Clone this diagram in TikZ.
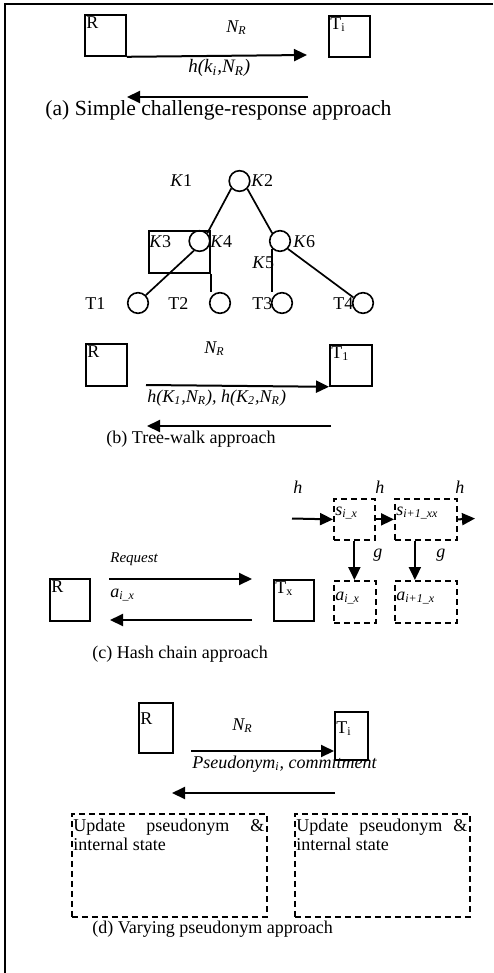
\documentclass[tikz,border=0pt]{standalone}
\usepackage{fontspec}
\setmainfont{Liberation Serif}
\usetikzlibrary{arrows.meta, positioning}

\begin{document}
\begin{tikzpicture}[
        x=0.5pt, y=-0.5pt,
        font=\fontsize{9}{11}\selectfont,
        agentbox/.style={rectangle, draw, line width=0.9pt, inner sep=0pt, anchor=north west},
        statebox/.style={agentbox, dash pattern=on 3pt off 2pt},
        boxsize/.style 2 args={minimum width=#1*0.5pt, minimum height=#2*0.5pt},
        keynode/.style={circle, draw, line width=0.8pt, minimum size=10.3pt, inner sep=0pt},
        branch/.style={line width=0.85pt},
        lbl/.style={inner sep=0pt, anchor=base west},
        boxlbl/.style={lbl, anchor=north west, inner sep=1pt},
        arrow/.style={-{Triangle[length=6.5pt,width=6pt]}, line width=1pt}
    ]
        \useasboundingbox (0,0) rectangle (493,973);
        \draw[line width=1.2pt] (493,4) -- (5,4) -- (5,973);

        % (a) simple challenge-response
        \node[agentbox, boxsize={41}{41}, label={[boxlbl]north west:R}] (Ra) at (84,14) {};
        \node[agentbox, boxsize={41}{41}, label={[boxlbl]north west:T\textsubscript{i}}] (Ta) at (328,15) {};
        \node[lbl] (NRa) at (226,33) {\textit{N\textsubscript{R}}};
        \node[lbl, font=\fontsize{9.5}{11}\selectfont] (hka) at (188,73) {\textit{h(k\textsubscript{i},N\textsubscript{R})}};
        \coordinate (a1) at (307,55);
        \coordinate (a2) at (308,97);
        \coordinate (a3) at (127,97);
        \draw[arrow] (Ra.south east) -- (a1);
        \draw[arrow] (a2) -- (a3);
        \node[lbl, font=\fontsize{10.8}{13}\selectfont] (capa) at (45,116) {(a) Simple challenge-response approach};

        % (b) tree of keys
        \node[keynode] (K2) at (239.5,181) {};
        \node[keynode] (K4) at (199.5,241) {};
        \node[keynode] (K6) at (280,241) {};
        \node[keynode] (T1) at (138,303) {};
        \node[keynode] (T2) at (220,303) {};
        \node[keynode] (T3) at (282,303) {};
        \node[keynode] (T4) at (363,303) {};
        \node[agentbox, boxsize={61}{42}] (K34) at (148,230) {};
        \node[lbl] (K1l) at (170,187) {\textit{K}1};
        \node[lbl] (K2l) at (251,187) {\textit{K}2};
        \node[lbl] (K3l) at (149,247) {\textit{K}3};
        \node[lbl] (K4l) at (210,247) {\textit{K}4};
        \node[lbl] (K5l) at (252,268) {\textit{K}5};
        \node[lbl] (K6l) at (293,247) {\textit{K}6};
        \node[lbl] (T1l) at (85,309) {T1};
        \node[lbl] (T2l) at (168,309) {T2};
        \node[lbl] (T3l) at (252,309) {T3};
        \node[lbl] (T4l) at (333,309) {T4};
        \draw[branch] (K2.222) -- (K4.north east);
        \draw[branch] (K2.south east) -- (K6.north west);
        \draw[branch] (K4.240) -- (T1.north east);
        \draw[branch] (K34.south east) -- (K34.south east |- T2.north);
        \draw[branch] (K6.south west) -- (K6.south west |- T3.north);
        \draw[branch] (K6.south east) -- (T4.150);

        % (b) messages
        \node[agentbox, boxsize={41}{42}, label={[boxlbl]north west:R}] (Rb) at (85,343) {};
        \node[agentbox, boxsize={42}{41}, label={[boxlbl]north west:T\textsubscript{1}}] (Tb) at (329,344) {};
        \node[lbl] (NRb) at (204,353) {\textit{N\textsubscript{R}}};
        \node[lbl] (hKb) at (147,402) {\textit{h(K\textsubscript{1},N\textsubscript{R}), h(K\textsubscript{2},N\textsubscript{R})}};
        \coordinate (b1) at (146,385);
        \coordinate (b2) at (331,426);
        \coordinate (b3) at (147,426);
        \draw[arrow] (b1) -- (Tb.south west);
        \draw[arrow] (b2) -- (b3);
        \node[lbl] (capb) at (106,443) {(b) Tree-walk approach};

        % (c) hash chain
        \node[statebox, boxsize={41}{41}, label={[lbl, anchor=west, inner sep=1pt, yshift=3pt]west:\textit{s\textsubscript{i\_x}}}] (sA) at (333,498) {};
        \node[statebox, boxsize={62}{41}, label={[lbl, anchor=west, inner sep=1pt, yshift=3pt]west:\textit{s\textsubscript{i+1\_xx}}}] (sB) at (394,498) {};
        \node[statebox, boxsize={42}{42}, label={[lbl, anchor=west, inner sep=1pt, yshift=2pt]west:\textit{a\textsubscript{i\_x}}}] (aA) at (333,580) {};
        \node[statebox, boxsize={62}{42}, label={[lbl, anchor=west, inner sep=1pt, yshift=2pt]west:\textit{a\textsubscript{i+1\_x}}}] (aB) at (394,580) {};
        \node[lbl] (h1) at (293,493) {\textit{h}};
        \node[lbl] (h2) at (375,493) {\textit{h}};
        \node[lbl] (h3) at (455,493) {\textit{h}};
        \node[lbl] (g1) at (373,557) {\textit{g}};
        \node[lbl] (g2) at (436,557) {\textit{g}};
        \coordinate (c5) at (292,518.5);
        \coordinate (c6) at (475,518.5);
        \draw[arrow] (c5) -- (sA.west);
        \draw[arrow] (sA.east) -- (sB.west);
        \draw[arrow] (sB.east) -- (c6);
        \draw[arrow] (sA.south) -- (sA.south |- aA.north);
        \draw[arrow] ([xshift=-5.5pt]sB.south) -- ([xshift=-5.5pt]sB.south |- aB.north);

        \node[agentbox, boxsize={40}{42}, label={[boxlbl]north west:R}] (Rc) at (49,578) {};
        \node[agentbox, boxsize={40}{41}, label={[boxlbl]north west:T\textsubscript{x}}] (Tc) at (273,579) {};
        \node[lbl, font=\fontsize{7.5}{9}\selectfont] (req) at (110,562) {\textit{Request}};
        \node[lbl] (aix) at (110,597) {\textit{a\textsubscript{i\_x}}};
        \coordinate (c1) at (109,579);
        \coordinate (c2) at (252,579);
        \coordinate (c3) at (252,620);
        \coordinate (c4) at (110,620);
        \draw[arrow] (c1) -- (c2);
        \draw[arrow] (c3) -- (c4);
        \node[lbl] (capc) at (92,658) {(c) Hash chain approach};

        % (d) varying pseudonym
        \node[agentbox, boxsize={34}{50}, label={[boxlbl, yshift=-4pt]north west:R}] (Rd) at (138,702) {};
        \node[agentbox, boxsize={33}{48}, label={[boxlbl, yshift=-4pt]north west:T\textsubscript{i}}] (Td) at (334,711) {};
        \node[lbl] (NRd) at (232,730) {\textit{N\textsubscript{R}}};
        \node[lbl] (psd) at (192,768) {\textit{Pseudonym\textsubscript{i}, commitment}};
        \coordinate (d1) at (191,751);
        \coordinate (d2) at (335,793);
        \coordinate (d3) at (172,793);
        \draw[arrow] (d1) -- (Td.west |- d1);
        \draw[arrow] (d2) -- (d3);

        \node[statebox, boxsize={195}{103}] (Ud1) at (71,813) {};
        \node[statebox, boxsize={175}{103}] (Ud2) at (294,813) {};
        \node[anchor=north west, inner sep=1pt, text width=95.5pt, align=justify, font=\fontsize{9}{9.4}\selectfont] (Ud1t) at ([yshift=-2pt]Ud1.north west) {Update pseudonym \&\linebreak internal state};
        \node[anchor=north west, inner sep=1pt, text width=85.5pt, align=justify, font=\fontsize{9}{9.4}\selectfont] (Ud2t) at ([yshift=-2pt]Ud2.north west) {Update pseudonym \&\linebreak internal state};
        \node[lbl] (capd) at (92,933) {(d) Varying pseudonym approach};
    \end{tikzpicture}
\end{document}
